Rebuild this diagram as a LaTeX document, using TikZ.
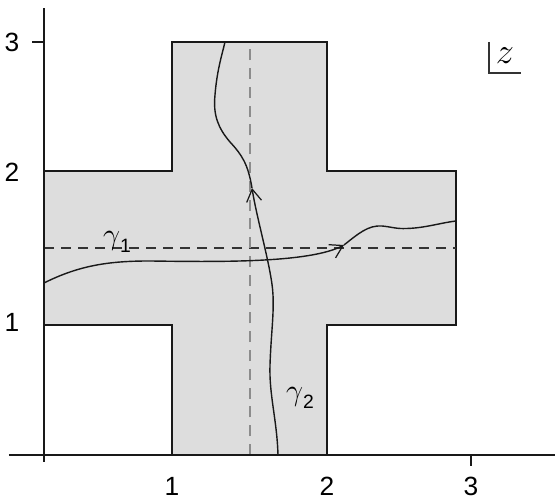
\documentclass[tikz,border=0pt]{standalone}
\usepackage{amsmath}
\usepackage{fontspec}
\setmainfont{Liberation Sans}
\usepackage{tikz}
\usetikzlibrary{arrows.meta,positioning}

\definecolor{crossgray}{RGB}{221,221,221}
\tikzset{
  axis/.style={line width=1.3pt, black!90},
  region/.style={fill=crossgray, draw=black!90, line width=0.9pt},
  midline/.style={black!80, line width=0.6pt, dash pattern=on 5.7pt off 4pt},
  midlinev/.style={black!45, line width=0.8pt, dash pattern=on 6.2pt off 4.5pt},
  contour/.style={black!90, line width=0.8pt},
  barb/.style={-{Straight Barb[length=7pt,width=8.5pt,line width=0.7pt]}},
  ticklabel/.style={font=\fontsize{15}{17}\selectfont, inner sep=0pt},
  curvelabel/.style={inner sep=0pt, font=\fontsize{16}{18}\selectfont}
}
\newcommand{\gam}[1]{$\gamma$\raisebox{-0.55ex}{\fontsize{11}{12}\selectfont #1}}

\begin{document}
\begin{tikzpicture}[x=2cm, y=2cm]
\useasboundingbox (0,0) rectangle (5.55,5.00);

% cross-shaped region
\draw[region] (0.44,3.29) -- (1.72,3.29) -- (1.72,4.58) -- (3.27,4.58) -- (3.27,3.29)
  -- (4.56,3.29) -- (4.56,1.75) -- (3.27,1.75) -- (3.27,0.45) -- (1.72,0.45)
  -- (1.72,1.75) -- (0.44,1.75) -- cycle;

\draw[midline] (0.44,2.52) -- (4.56,2.52);
\draw[midlinev] (2.50,0.45) -- (2.50,4.58);

% axes
\draw[axis] (0.09,0.45) -- (5.55,0.45);
\draw[axis] (0.44,0.38) -- (0.44,4.92);
\draw[axis] (4.71,0.45) -- (4.71,0.34);
\draw[axis] (0.32,4.58) -- (0.44,4.58);

\node[ticklabel] (x1) at (1.72,0.14) {1};
\node[ticklabel] (x2) at (3.27,0.14) {2};
\node[ticklabel] (x3) at (4.71,0.14) {3};
\node[ticklabel] (y1) at (0.12,1.78) {1};
\node[ticklabel] (y2) at (0.12,3.28) {2};
\node[ticklabel] (y3) at (0.12,4.58) {3};

% gamma_1
\draw[contour, barb] (0.44,2.17) .. controls (0.8,2.35) and (1.1,2.39) .. (1.5,2.39)
  .. controls (2.2,2.38) and (3.1,2.37) .. (3.44,2.55);
\draw[contour] (3.44,2.55) .. controls (3.58,2.66) and (3.68,2.75) .. (3.82,2.74)
  .. controls (3.92,2.73) and (3.96,2.71) .. (4.07,2.715)
  .. controls (4.25,2.72) and (4.4,2.77) .. (4.56,2.79);

% gamma_2
\draw[contour, barb] (2.78,0.45) .. controls (2.77,0.8) and (2.69,1.05) .. (2.70,1.35)
  .. controls (2.71,1.65) and (2.74,1.85) .. (2.73,2.05)
  .. controls (2.72,2.3) and (2.57,2.8) .. (2.52,3.12);
\draw[contour] (2.52,3.12) .. controls (2.48,3.36) and (2.42,3.45) .. (2.30,3.58)
  .. controls (2.18,3.72) and (2.13,3.85) .. (2.15,4.05)
  .. controls (2.17,4.3) and (2.22,4.45) .. (2.25,4.58);

\node[curvelabel] (g1) at (1.17,2.58) {\gam{1}};
\node[curvelabel] (g2) at (3.00,1.02) {\gam{2}};

% plane label
\node[inner sep=0pt, font=\fontsize{22}{24}\selectfont] (zlab) at (5.05,4.44) {$z$};
\coordinate (zc) at (4.89,4.27);
\draw[black!80, line width=0.7pt] (4.89,4.58) -- (zc) -- (5.21,4.27);

\end{tikzpicture}
\end{document}
